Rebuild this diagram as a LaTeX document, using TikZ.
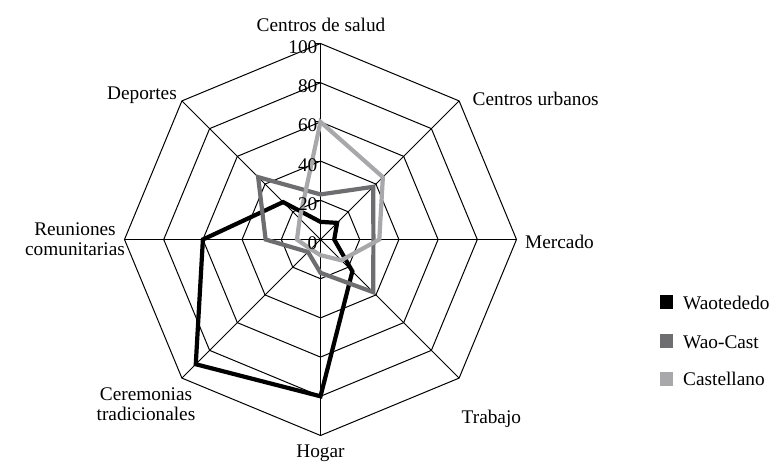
\documentclass[tikz,border=0pt]{standalone}
\usepackage{fontspec}
\setmainfont{Liberation Serif}
\definecolor{waocast}{RGB}{110,110,112}
\definecolor{castell}{RGB}{168,168,170}
\begin{document}
\begin{tikzpicture}[x=1pt,y=1pt,
  lab/.style={font=\fontsize{19.3}{21}\selectfont, inner sep=0pt},
  gridline/.style={line width=1pt, black},
  series/.style={line width=4.2pt, line join=miter, miter limit=4},
  keybox/.style={minimum width=13pt, minimum height=14pt, inner sep=0pt, draw=none}
]
\useasboundingbox (0,0) rectangle (773,461);
\begin{scope}[shift={(320.5,221.5)}]
  \coordinate (O) at (0,0);
  % rings
  \foreach \r in {1,...,5}{
    \pgfmathsetmacro\rr{\r*39.2}
    \draw[gridline] (0:\rr) -- (45:\rr) -- (90:\rr) -- (135:\rr) -- (180:\rr) -- (225:\rr) -- (270:\rr) -- (315:\rr) -- cycle;
  }
  % spokes
  \foreach \a in {0,45,...,315} \draw[gridline] (O) -- (\a:196);
  % ticks
  \foreach \v in {0,20,...,100}{
    \draw[gridline] (-5,{\v*1.96}) -- (0,{\v*1.96});
  }
  % series Waotededo
  \foreach \v [count=\i] in {9,12,7,23,80,90,60,27}
    \coordinate (w\i) at ({90-45*(\i-1)}:{\v*1.96});
  \draw[series, black] (w1) -- (w2) -- (w3) -- (w4) -- (w5) -- (w6) -- (w7) -- (w8) -- cycle;
  % series Wao-Cast
  \foreach \v [count=\i] in {23,38,27,38,17,9,28,45}
    \coordinate (c\i) at ({90-45*(\i-1)}:{\v*1.96});
  \draw[series, waocast] (c1) -- (c2) -- (c3) -- (c4) -- (c5) -- (c6) -- (c7) -- (c8) -- cycle;
  % series Castellano
  \foreach \v [count=\i] in {60,45,30,15,8,7,12,15}
    \coordinate (s\i) at ({90-45*(\i-1)}:{\v*1.96});
  \draw[series, castell] (s1) -- (s2) -- (s3) -- (s4) -- (s5) -- (s6) -- (s7) -- (s8) -- cycle;
  % tick labels
  \foreach \v in {0,20,...,100}{
    \node[lab, anchor=base east] (tick\v) at (-3,{\v*1.96-10}) {\v};
  }
\end{scope}
% category labels
\node[lab, anchor=base] (lcds) at (321,429.3) {Centros de salud};
\node[lab, anchor=base west] (lcu) at (472.5,355) {Centros urbanos};
\node[lab, anchor=base west] (lmer) at (525,212) {Mercado};
\node[lab, anchor=base west] (ltra) at (461.5,38) {Trabajo};
\node[lab, anchor=base] (lhog) at (320.5,3.5) {Hogar};
\node[lab, anchor=base] (lcer1) at (146,61) {Ceremonias};
\node[lab, anchor=base] (lcer2) at (146,40.3) {tradicionales};
\node[lab, anchor=base] (lreu1) at (75,225.3) {Reuniones};
\node[lab, anchor=base] (lreu2) at (75,206) {comunitarias};
\node[lab, anchor=base east] (ldep) at (177,361.5) {Deportes};
% legend
\node[keybox, fill=black] (k1) at (666.5,159.5) {};
\node[keybox, fill=waocast] (k2) at (666.5,120) {};
\node[keybox, fill=castell] (k3) at (666.5,81.8) {};
\node[lab, anchor=base west] (t1) at (683,151.7) {Waotededo};
\node[lab, anchor=base west] (t2) at (683,112.7) {Wao-Cast};
\node[lab, anchor=base west] (t3) at (683,76) {Castellano};
\end{tikzpicture}
\end{document}
